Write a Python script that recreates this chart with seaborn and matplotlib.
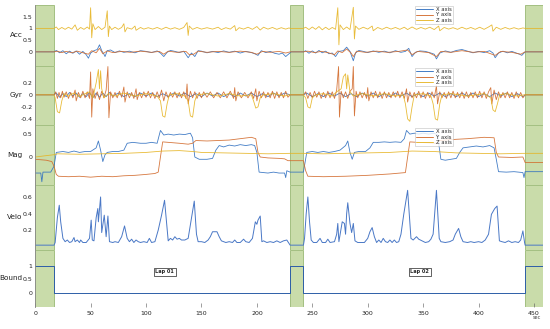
import matplotlib
matplotlib.use('Agg')
import matplotlib.pyplot as plt
import pandas as pd
import seaborn as sns

# ---- stationary (green) segments and lap labels ----
still_spans = [(0, 17), (230, 242), (442, 458)]
lap_names = ['Lap 01', 'Lap 02']
lap_pos = [117, 347]

# ---- accelerometer ----
acc_x_t = [0, 17, 19, 22, 25, 28, 31, 34, 37, 40, 43, 46, 48, 50, 53, 56, 58, 60, 62, 63, 65, 68, 72, 76, 80, 85, 90, 95,
           100, 105, 110, 113, 116, 119, 122, 126, 130, 134, 138, 141, 144, 147, 150, 155, 160, 165, 170, 175, 180, 185,
           190, 195, 198, 201, 204, 208, 212, 216, 220, 223, 226, 229, 231, 242,
           244, 247, 250, 253, 256, 259, 262, 265, 268, 271, 274, 278, 281, 284, 287, 289, 292, 296, 300, 305, 310, 315,
           320, 325, 330, 334, 337, 340, 343, 347, 352, 357, 360, 362, 365, 370, 375, 380, 385, 390, 395, 400, 405, 410,
           413, 415, 418, 422, 426, 430, 434, 437, 439, 441, 442, 458]
acc_x_v = [0, 0, 0.06, -0.04, 0.05, -0.08, 0.03, -0.06, 0.04, -0.1, 0.02, -0.12, -0.27, -0.05, 0.05, 0.1, 0.3, 0.05, -0.1,
           -0.2, 0.05, 0.08, -0.03, 0.04, -0.02, 0.03, -0.04, 0.05, 0.02, -0.03, 0.04, -0.05, -0.2, -0.02, 0.06, 0.02,
           -0.03, 0.03, -0.25, -0.05, -0.2, 0.05, 0.03, -0.04, 0.02, -0.03, 0.04, -0.02, 0.03, -0.05, 0.02, -0.03, -0.08,
           -0.15, 0.05, -0.03, 0.02, -0.06, -0.1, -0.05, -0.2, -0.08, 0, 0,
           0.05, -0.06, 0.04, -0.05, 0.06, -0.04, 0.03, -0.08, -0.05, -0.2, 0.02, 0.05, 0.2, 0.02, -0.38, -0.05, 0.06,
           0.02, -0.03, 0.04, -0.02, 0.03, -0.04, 0.05, -0.02, 0.02, 0.15, -0.2, -0.02, 0.04, 0.02, -0.05, -0.1, -0.3,
           -0.05, 0.04, -0.02, 0.06, 0.1, 0.03, -0.04, 0.02, -0.03, 0.05, -0.05, -0.25, -0.05, 0.03, -0.04, 0.02, -0.05,
           -0.1, -0.15, -0.05, 0, 0]
acc_y_t = [0, 17, 20, 24, 28, 33, 38, 44, 48, 51, 55, 58, 61, 65, 70, 78, 86, 95, 105, 112, 116, 120, 128, 136, 139, 143,
           147, 155, 165, 175, 185, 195, 200, 205, 212, 220, 226, 230, 242, 246, 252, 258, 264, 270, 273, 277, 281, 285,
           287, 290, 298, 308, 318, 328, 336, 340, 345, 355, 362, 366, 375, 385, 395, 405, 415, 420, 430, 438, 442, 458]
acc_y_v = [0, 0, 0.03, -0.03, 0.02, -0.04, 0.03, -0.05, -0.1, 0.05, -0.04, 0.15, -0.08, 0.04, -0.03, 0.02, -0.02, 0.03,
           -0.02, 0.02, -0.1, 0.03, -0.02, 0.02, -0.12, -0.1, 0.03, -0.02, 0.02, -0.02, 0.03, -0.02, -0.1, 0.02, -0.02,
           0.02, -0.05, 0, 0, 0.03, -0.03, 0.02, -0.03, -0.12, 0.04, -0.03, 0.12, -0.05, -0.2, 0.03, -0.02, 0.03, -0.02,
           0.02, 0.08, -0.12, 0.02, -0.03, -0.2, 0.02, -0.02, 0.05, -0.02, 0.02, -0.15, 0.02, -0.02, -0.1, 0, 0]
acc_z_t = [0, 17, 19, 21, 24, 27, 30, 33, 36, 38, 41, 44, 47, 49, 50, 51, 52, 54, 57, 60, 63, 65, 66, 67, 69, 72, 75, 78,
           80, 81, 83, 87, 90, 91, 95, 98, 102, 106, 110, 114, 118, 122, 126, 130, 134, 137, 138, 139, 142, 146, 150,
           155, 160, 165, 168, 172, 176, 180, 181, 184, 188, 192, 196, 200, 203, 206, 210, 214, 218, 222, 226, 229, 230,
           242, 244, 247, 250, 253, 256, 259, 262, 265, 268, 271, 273, 274, 275, 278, 281, 284, 287, 288, 289, 292, 296,
           300, 304, 305, 309, 313, 317, 321, 325, 329, 333, 336, 340, 344, 348, 352, 356, 360, 364, 365, 369, 373, 377,
           381, 385, 389, 393, 397, 401, 405, 409, 412, 413, 416, 420, 424, 428, 432, 436, 440, 442, 458]
acc_z_v = [1, 1, 1.06, 0.95, 1.04, 0.96, 1.05, 0.97, 1.15, 0.92, 1.04, 0.96, 1.06, 0.97, 1.88, 0.6, 1.2, 0.95, 1.08, 0.95,
           1.05, 1.75, 0.65, 1.1, 0.95, 1.05, 0.96, 1.04, 1.2, 0.85, 1.03, 0.97, 1.1, 0.92, 1.04, 0.97, 1.03, 0.97, 1.04,
           0.96, 1.05, 0.97, 1.03, 0.96, 1.04, 1.25, 0.7, 1.1, 0.96, 1.04, 0.97, 1.03, 0.97, 1.05, 0.95, 1.03, 0.97, 1.12,
           0.9, 1.03, 0.97, 1.05, 0.96, 1.08, 0.93, 1.05, 0.97, 1.04, 0.96, 1.03, 0.97, 1.02, 1, 1,
           1.05, 0.95, 1.06, 0.96, 1.08, 0.94, 1.05, 0.95, 1.04, 0.96, 1.88, 0.3, 1.15, 0.95, 1.06, 0.95, 1.9, 0.55, 1.1,
           0.96, 1.05, 0.97, 1.1, 0.9, 1.04, 0.96, 1.05, 0.97, 1.04, 0.96, 1.05, 0.95, 1.06, 0.96, 1.04, 0.97, 1.05, 0.95,
           1.1, 0.9, 1.04, 0.97, 1.03, 0.96, 1.05, 0.97, 1.04, 0.96, 1.05, 0.96, 1.06, 1.15, 0.88, 1.05, 0.96, 1.04, 0.97,
           1.03, 0.97, 1.02, 1, 1]

# ---- gyroscope ----
gyr_x_t = [0, 17, 19, 22, 25, 28, 31, 34, 37, 40, 43, 46, 49, 52, 55, 58, 61, 64, 67, 70, 75, 80, 85, 90, 95, 100, 105,
           110, 115, 120, 125, 130, 135, 140, 145, 150, 155, 160, 165, 170, 175, 180, 185, 190, 195, 200, 205, 210, 215,
           220, 225, 230, 242, 245, 250, 255, 260, 265, 270, 275, 280, 285, 290, 295, 300, 305, 310, 315, 320, 325, 330,
           335, 340, 345, 350, 355, 360, 365, 370, 375, 380, 385, 390, 395, 400, 405, 410, 415, 420, 425, 430, 435, 440,
           442, 458]
gyr_x_v = [0, 0, 0.03, -0.04, 0.02, -0.03, 0.04, -0.02, 0.03, -0.04, 0.02, -0.03, 0.04, -0.05, 0.03, -0.04, 0.03, -0.03,
           0.04, -0.02, 0.03, -0.03, 0.02, -0.03, 0.03, -0.02, 0.03, -0.03, 0.02, -0.03, 0.03, -0.02, 0.03, -0.03, 0.02,
           -0.03, 0.03, -0.02, 0.03, -0.03, 0.02, -0.03, 0.03, -0.02, 0.03, -0.03, 0.02, -0.03, 0.03, -0.02, 0.03, 0, 0,
           0.03, -0.03, 0.02, -0.03, 0.03, -0.02, 0.03, -0.03, 0.02, -0.03, 0.03, -0.02, 0.03, -0.03, 0.02, -0.03, 0.03,
           -0.02, 0.03, -0.03, 0.02, -0.03, 0.03, -0.02, 0.03, -0.03, 0.02, -0.03, 0.03, -0.02, 0.03, -0.03, 0.02, -0.03,
           0.03, -0.02, 0.03, -0.03, 0.02, -0.03, 0, 0]
gyr_y_t = [0, 17, 18.5, 20, 21.5, 23, 24.5, 26, 28, 30, 32, 34, 36, 37, 39, 41, 43, 45, 47, 49, 50, 51, 52, 54, 56, 58,
           60, 62, 64, 65.6, 66.5, 68, 70, 72, 74, 76, 78, 80, 81, 83, 85, 87, 89, 91, 92, 94, 96, 98, 100, 102, 104, 106,
           108, 110, 112, 114, 116, 118, 120, 122, 124, 126, 128, 130, 132, 134, 136, 137, 138, 140, 142, 144, 146, 148,
           150, 152, 155, 158, 161, 164, 167, 170, 173, 176, 179, 180, 181, 183, 186, 189, 192, 195, 197, 199, 200, 202,
           204, 206, 208, 210, 212, 214, 216, 218, 220, 222, 224, 226, 228, 230, 242,
           244, 246, 248, 250, 252, 254, 256, 258, 260, 262, 264, 266, 268, 270, 272, 273.7, 274.5, 276, 278, 280, 282,
           284, 286, 287, 288, 289.5, 291, 293, 295, 297, 299, 300, 301, 303, 305, 307, 309, 311, 313, 315, 317, 319, 321,
           323, 325, 327, 329, 331, 333, 335, 336, 338, 340, 342, 344, 346, 348, 350, 352, 354, 356, 358, 360, 362, 363,
           365, 367, 369, 371, 373, 375, 377, 379, 381, 383, 385, 387, 389, 391, 393, 395, 397, 399, 401, 403, 405, 407,
           409, 411, 412, 414, 416, 418, 420, 422, 424, 426, 428, 430, 432, 434, 436, 438, 440, 442, 458]
gyr_y_v = [0, 0, 0.05, -0.06, 0.04, -0.05, 0.06, -0.04, 0.05, -0.06, 0.04, -0.05, 0.08, -0.1, 0.04, -0.05, 0.06, -0.05,
           0.05, -0.06, 0.38, -0.37, 0.1, -0.06, 0.05, -0.08, 0.06, -0.05, 0.08, 0.47, -0.38, 0.05, -0.05, 0.04, -0.05,
           0.06, -0.04, 0.13, -0.12, 0.05, -0.05, 0.04, -0.06, 0.1, -0.08, 0.04, -0.05, 0.05, -0.04, 0.06, -0.05, 0.04,
           -0.06, 0.05, -0.05, 0.08, -0.1, 0.05, -0.05, 0.04, -0.04, 0.05, -0.05, 0.04, -0.05, 0.05, -0.06, 0.18, -0.15,
           0.06, -0.05, 0.05, -0.06, 0.04, -0.05, 0.05, -0.04, 0.05, -0.05, 0.04, -0.05, 0.05, -0.05, 0.06, -0.06, 0.12,
           -0.1, 0.05, -0.05, 0.04, -0.05, 0.05, -0.06, 0.1, -0.1, 0.06, -0.05, 0.05, -0.05, 0.04, -0.05, 0.06, -0.06,
           0.05, -0.05, 0.04, -0.05, 0.06, -0.04, 0, 0,
           0.05, -0.06, 0.04, -0.05, 0.06, -0.04, 0.05, -0.06, 0.04, -0.05, 0.06, -0.05, 0.05, -0.06, 0.08, 0.47, -0.37,
           0.06, -0.05, 0.05, -0.06, 0.06, 0.1, 0.47, -0.35, 0.06, -0.05, 0.05, -0.05, 0.04, -0.06, 0.12, -0.1, 0.05,
           -0.05, 0.06, -0.05, 0.05, -0.06, 0.05, -0.05, 0.04, -0.05, 0.05, -0.04, 0.06, -0.05, 0.05, -0.06, 0.1, -0.12,
           0.05, -0.05, 0.04, -0.05, 0.06, -0.05, 0.05, -0.06, 0.04, -0.05, 0.05, -0.05, 0.15, -0.15, 0.05, -0.05, 0.04,
           -0.06, 0.05, -0.05, 0.06, -0.05, 0.04, -0.05, 0.05, -0.06, 0.05, -0.05, 0.04, -0.05, 0.05, -0.05, 0.06, -0.05,
           0.05, -0.06, 0.05, 0.12, -0.15, 0.08, -0.08, 0.05, -0.05, 0.04, -0.05, 0.05, -0.05, 0.04, -0.06, 0.05, -0.05,
           0.04, -0.05, 0, 0]
gyr_z_t = [0, 17, 18, 20, 22, 24, 26, 30, 35, 40, 45, 49, 52, 55, 57, 58, 59, 60, 62, 66, 72, 80, 90, 100, 110, 113, 115,
           117, 119, 121, 128, 135, 138, 140, 142, 144, 146, 155, 165, 175, 185, 195, 197, 199, 201, 203, 206, 215, 225,
           229, 230, 242, 244, 246, 248, 250, 253, 260, 268, 272, 276, 278, 280, 281, 282, 284, 287, 295, 305, 315, 325,
           332, 334, 336, 338, 340, 342, 350, 357, 359, 361, 363, 365, 367, 375, 390, 405, 411, 413, 415, 417, 419, 425,
           435, 441, 442, 458]
gyr_z_v = [0, 0, -0.05, -0.28, -0.3, -0.1, 0.02, -0.02, 0.03, -0.03, 0.02, 0.05, -0.05, 0.2, 0.42, 0.1, 0.4, 0.1, -0.05,
           0.02, -0.02, 0.03, -0.02, 0.02, -0.02, -0.1, -0.35, -0.37, -0.15, 0.0, 0.02, -0.02, -0.1, -0.35, -0.37, -0.1,
           0.0, 0.02, -0.02, 0.02, -0.02, 0.0, -0.1, -0.22, -0.2, -0.05, 0.0, 0.02, -0.02, 0.0, 0, 0, -0.05, -0.2, -0.22,
           -0.05, 0.0, 0.02, -0.02, 0.05, 0.1, 0.3, 0.35, 0.1, 0.33, 0.05, -0.02, 0.02, -0.02, 0.02, -0.02, 0.0, -0.15,
           -0.4, -0.44, -0.2, 0.0, 0.02, -0.02, -0.15, -0.4, -0.42, -0.15, 0.0, 0.02, -0.02, 0.02, -0.05, -0.25, -0.28,
           -0.15, 0.0, 0.02, -0.02, 0.0, 0, 0]

# ---- magnetometer ----
mag_x_t = [0, 5, 6, 7, 14, 17, 19, 25, 30, 35, 40, 45, 50, 55, 57, 59, 61, 63, 65, 70, 75, 80, 83, 88, 95, 100, 105, 110,
           113, 116, 120, 125, 130, 135, 140, 142, 144, 148, 155, 160, 163, 166, 170, 175, 180, 185, 190, 195, 198, 200,
           202, 210, 215, 220, 225, 226, 227, 230, 242, 245, 250, 255, 260, 265, 270, 275, 280, 282, 284, 286, 288, 292,
           298, 302, 305, 310, 315, 320, 325, 330, 333, 335, 338, 342, 346, 350, 355, 360, 363, 366, 370, 375, 380, 383,
           386, 392, 398, 404, 410, 414, 416, 418, 425, 432, 440, 441, 442, 458]
mag_x_v = [-0.35, -0.35, -0.54, -0.33, -0.33, -0.2, 0.1, 0.12, 0.1, 0.13, 0.1, 0.12, 0.12, 0.2, 0.35, 0.15, -0.1, 0.05,
           0.1, 0.12, 0.12, 0.15, 0.3, 0.32, 0.3, 0.3, 0.32, 0.3, 0.58, 0.48, 0.5, 0.48, 0.5, 0.49, 0.52, 0.42, 0.0, -0.05,
           -0.05, -0.03, 0.15, 0.25, 0.22, 0.26, 0.24, 0.27, 0.25, 0.27, 0.25, 0.1, -0.33, -0.35, -0.33, -0.35, -0.35,
           -0.45, -0.3, -0.33, -0.33, 0.1, 0.12, 0.1, 0.12, 0.1, 0.12, 0.15, 0.25, 0.35, 0.1, -0.05, 0.1, 0.12, 0.12, 0.2,
           0.32, 0.32, 0.33, 0.32, 0.33, 0.32, 0.4, 0.58, 0.5, 0.52, 0.5, 0.52, 0.5, 0.52, 0.48, -0.05, -0.07, -0.05,
           -0.03, 0.1, 0.2, 0.22, 0.24, 0.22, 0.25, 0.2, -0.05, -0.32, -0.33, -0.32, -0.34, -0.45, -0.32, -0.32]
mag_y_t = [0, 10, 15, 17, 19, 21, 30, 40, 50, 60, 70, 80, 90, 100, 108, 111, 113, 115, 120, 130, 138, 142, 145, 155, 165,
           175, 185, 195, 199, 201, 203, 210, 220, 225, 228, 230, 242, 244, 246, 260, 280, 300, 320, 334, 336, 338, 345,
           355, 362, 365, 375, 390, 405, 414, 416, 418, 430, 440, 442, 458]
mag_y_v = [-0.05, -0.07, -0.1, -0.2, -0.38, -0.42, -0.43, -0.42, -0.44, -0.42, -0.43, -0.41, -0.4, -0.38, -0.36, -0.33,
           0.0, 0.33, 0.32, 0.3, 0.28, 0.3, 0.36, 0.35, 0.36, 0.37, 0.4, 0.43, 0.4, 0.1, 0.0, -0.02, -0.03, -0.04, -0.08,
           -0.08, -0.08, -0.3, -0.42, -0.43, -0.42, -0.4, -0.37, -0.34, 0.0, 0.33, 0.32, 0.31, 0.3, 0.36, 0.38, 0.4, 0.43,
           0.42, 0.1, 0.0, -0.01, 0.0, -0.12, -0.12]
mag_z_t = [0, 10, 17, 20, 40, 60, 80, 100, 115, 130, 142, 150, 170, 190, 210, 230, 242, 260, 280, 300, 320, 340, 360, 380,
           400, 420, 440, 458]
mag_z_v = [0.0, 0.03, 0.05, 0.07, 0.06, 0.07, 0.08, 0.1, 0.13, 0.14, 0.12, 0.1, 0.09, 0.08, 0.07, 0.08, 0.08, 0.07, 0.08,
           0.09, 0.1, 0.13, 0.12, 0.09, 0.08, 0.07, 0.08, 0.08]

# ---- velocity ----
velo_t = [0, 17, 18, 20, 21.7, 23, 25, 27, 29, 31, 33, 35, 36, 38, 40, 41, 43, 46, 49, 50.5, 51.5, 53, 55, 56.5, 57, 59,
          60, 62.3, 64, 65.6, 67, 70, 72, 75, 78, 80.6, 83, 85, 87, 89, 91, 93, 95, 98, 101, 103, 105, 108, 111, 114,
          116.7, 118.5, 120, 122, 124, 126, 128, 130, 132, 135, 138, 141, 143.5, 145.5, 147, 150, 153, 156, 158, 160,
          164, 166, 168, 172, 175, 178, 180, 182, 185, 188, 190, 193, 196, 198.6, 200, 201, 203, 204.5, 206, 209, 212,
          215, 218, 221, 224, 227, 229, 230, 242, 243, 244.5, 246, 247.5, 249, 251, 254, 257, 259, 262, 264, 266, 270,
          272, 273, 274, 277, 279, 280, 281, 282, 284, 285.5, 287, 288.5, 291, 294, 297, 300, 302, 304, 306, 308, 310,
          312, 314, 316, 318, 320, 322, 324, 326, 328, 330, 332.5, 336, 339, 341, 344, 346, 349, 352, 355, 357, 359, 362,
          364.5, 366, 370, 374, 377, 379, 382, 384, 386, 390, 393, 396, 400, 403, 406, 409, 411.6, 414.6, 416.7, 418.8,
          421, 424, 427, 430, 433, 436, 438, 440, 441.5, 442, 458]
velo_v = [0.018, 0.018, 0.05, 0.35, 0.5, 0.3, 0.1, 0.06, 0.08, 0.05, 0.06, 0.11, 0.06, 0.08, 0.05, 0.08, 0.05, 0.05, 0.1,
          0.32, 0.08, 0.07, 0.35, 0.46, 0.3, 0.6, 0.17, 0.38, 0.12, 0.37, 0.06, 0.05, 0.06, 0.05, 0.12, 0.25, 0.1, 0.06,
          0.09, 0.05, 0.08, 0.06, 0.05, 0.06, 0.05, 0.1, 0.05, 0.06, 0.2, 0.38, 0.56, 0.3, 0.07, 0.1, 0.08, 0.12, 0.09,
          0.1, 0.08, 0.08, 0.1, 0.35, 0.55, 0.15, 0.06, 0.06, 0.05, 0.08, 0.12, 0.18, 0.18, 0.12, 0.07, 0.05, 0.06, 0.05,
          0.08, 0.05, 0.05, 0.09, 0.06, 0.05, 0.1, 0.3, 0.27, 0.32, 0.37, 0.06, 0.07, 0.05, 0.06, 0.05, 0.07, 0.05, 0.07,
          0.08, 0.04, 0.018, 0.018, 0.1, 0.4, 0.6, 0.3, 0.08, 0.05, 0.05, 0.1, 0.05, 0.05, 0.09, 0.05, 0.06, 0.15, 0.28,
          0.06, 0.3, 0.28, 0.15, 0.4, 0.53, 0.28, 0.17, 0.28, 0.07, 0.05, 0.05, 0.05, 0.1, 0.18, 0.23, 0.12, 0.05, 0.08,
          0.05, 0.1, 0.06, 0.05, 0.08, 0.05, 0.08, 0.05, 0.06, 0.15, 0.39, 0.68, 0.1, 0.08, 0.12, 0.09, 0.07, 0.05, 0.06,
          0.09, 0.15, 0.68, 0.1, 0.06, 0.05, 0.06, 0.08, 0.15, 0.22, 0.12, 0.06, 0.05, 0.06, 0.05, 0.06, 0.05, 0.08,
          0.15, 0.39, 0.46, 0.49, 0.07, 0.06, 0.05, 0.07, 0.05, 0.06, 0.05, 0.08, 0.19, 0.05, 0.018, 0.018]

# ---- boundary flag ----
bound_t = [0, 17, 17, 230, 230, 242, 242, 442, 442, 458]
bound_v = [1, 1, 0, 0, 1, 1, 0, 0, 1, 1]

axis_names = ['X axis', 'Y axis', 'Z axis']
xyz_colors = ['#2f6fc0', '#d2692a', '#e6b422']


def to_long(pairs, names):
    frames = []
    for (t, v), n in zip(pairs, names):
        frames.append(pd.DataFrame({'t': t, 'v': v, 'axis': n}))
    return pd.concat(frames, ignore_index=True)


acc = to_long([(acc_x_t, acc_x_v), (acc_y_t, acc_y_v), (acc_z_t, acc_z_v)], axis_names)
gyr = to_long([(gyr_x_t, gyr_x_v), (gyr_y_t, gyr_y_v), (gyr_z_t, gyr_z_v)], axis_names)
mag = to_long([(mag_x_t, mag_x_v), (mag_y_t, mag_y_v), (mag_z_t, mag_z_v)], axis_names)
velo = pd.DataFrame({'t': velo_t, 'v': velo_v})
bound = pd.DataFrame({'t': bound_t, 'v': bound_v})

sns.set_style('white')
plt.rcParams['font.family'] = ['DejaVu Sans']

fig, axes = plt.subplots(5, 1, figsize=(5.5, 3.29), dpi=100, sharex=True,
                         gridspec_kw={'height_ratios': [61, 59, 60, 65, 57], 'hspace': 0})
fig.subplots_adjust(left=0.064, right=0.987, top=0.985, bottom=0.067)

panels = [
    ('Acc', acc, (-0.6, 2.0), [0, 0.5, 1, 1.5], ['0', '0.5', '1', '1.5'], 0.985),
    ('Gyr', gyr, (-0.5, 0.48), [-0.4, -0.2, 0, 0.2], ['-0.4', '-0.2', '0', '0.2'], 0.965),
    ('Mag', mag, (-0.61, 0.7), [0, 0.5], ['0', '0.5'], 0.95),
    ('Velo', velo, (-0.04, 0.745), [0.2, 0.4, 0.6], ['0.2', '0.4', '0.6'], None),
    ('Bound', bound, (-0.52, 1.59), [0, 0.5, 1, 1.5], ['0', '0.5', '1', ''], None),
]

for ax, (name, df, ylim, yt, ytl, leg_y) in zip(axes, panels):
    for a, b in still_spans:
        ax.axvspan(a, b, facecolor='#c9dcaa', edgecolor='#98b874', lw=0.6, zorder=0)
    if 'axis' in df.columns:
        sns.lineplot(data=df, x='t', y='v', hue='axis', palette=xyz_colors, estimator=None,
                     sort=False, lw=0.6, alpha=0.9, ax=ax)
        h, l = ax.get_legend_handles_labels()
        lg = ax.legend(h, l, loc='upper left', bbox_to_anchor=(0.748, leg_y), fontsize=3.8,
                       frameon=True, fancybox=False, handlelength=3.2, handletextpad=0.5,
                       labelspacing=0.05, borderpad=0.25, borderaxespad=0)
        lg.get_frame().set_edgecolor('#b0b0b0')
        lg.get_frame().set_linewidth(0.4)
        for ln in lg.get_lines():
            ln.set_linewidth(0.7)
    else:
        col = '#4a78c6' if name == 'Velo' else '#2d5ea8'
        sns.lineplot(data=df, x='t', y='v', estimator=None, sort=False, lw=0.7, color=col, ax=ax)
    ax.set_ylim(*ylim)
    ax.set_yticks(yt)
    ax.set_yticklabels(ytl)
    ax.set_ylabel(name, rotation=0, fontsize=5.2, ha='right', va='center', color='#222222')
    ax.yaxis.set_label_coords(-0.025, 0.5)
    ax.set_xlabel('')
    ax.set_facecolor('none')
    ax.tick_params(axis='y', direction='in', length=2.5, width=0.4, labelsize=4.5, pad=2,
                   colors='#555555', labelcolor='#222222')
    for s in ['top', 'right', 'bottom']:
        ax.spines[s].set_visible(False)
    ax.spines['left'].set_color('#8a8a8a')
    ax.spines['left'].set_linewidth(0.6)
    ax.tick_params(axis='x', bottom=False, labelbottom=False)

axes[-1].set_xlim(0, 458)
axes[-1].set_xticks(range(0, 451, 50))
axes[-1].tick_params(axis='x', bottom=True, labelbottom=True, direction='in', length=3,
                     width=0.4, labelsize=4.5, pad=3, colors='#555555', labelcolor='#222222')

for name, x in zip(lap_names, lap_pos):
    axes[-1].text(x, 0.78, name, fontsize=3.6, fontweight='bold', ha='center', va='center',
                  bbox=dict(boxstyle='square,pad=0.25', fc='white', ec='#222222', lw=0.5))

fig.text(0.977, 0.035, 'sec', fontsize=3.6, ha='center', va='center', color='#444444')

fig.savefig('out.png', dpi=100)
